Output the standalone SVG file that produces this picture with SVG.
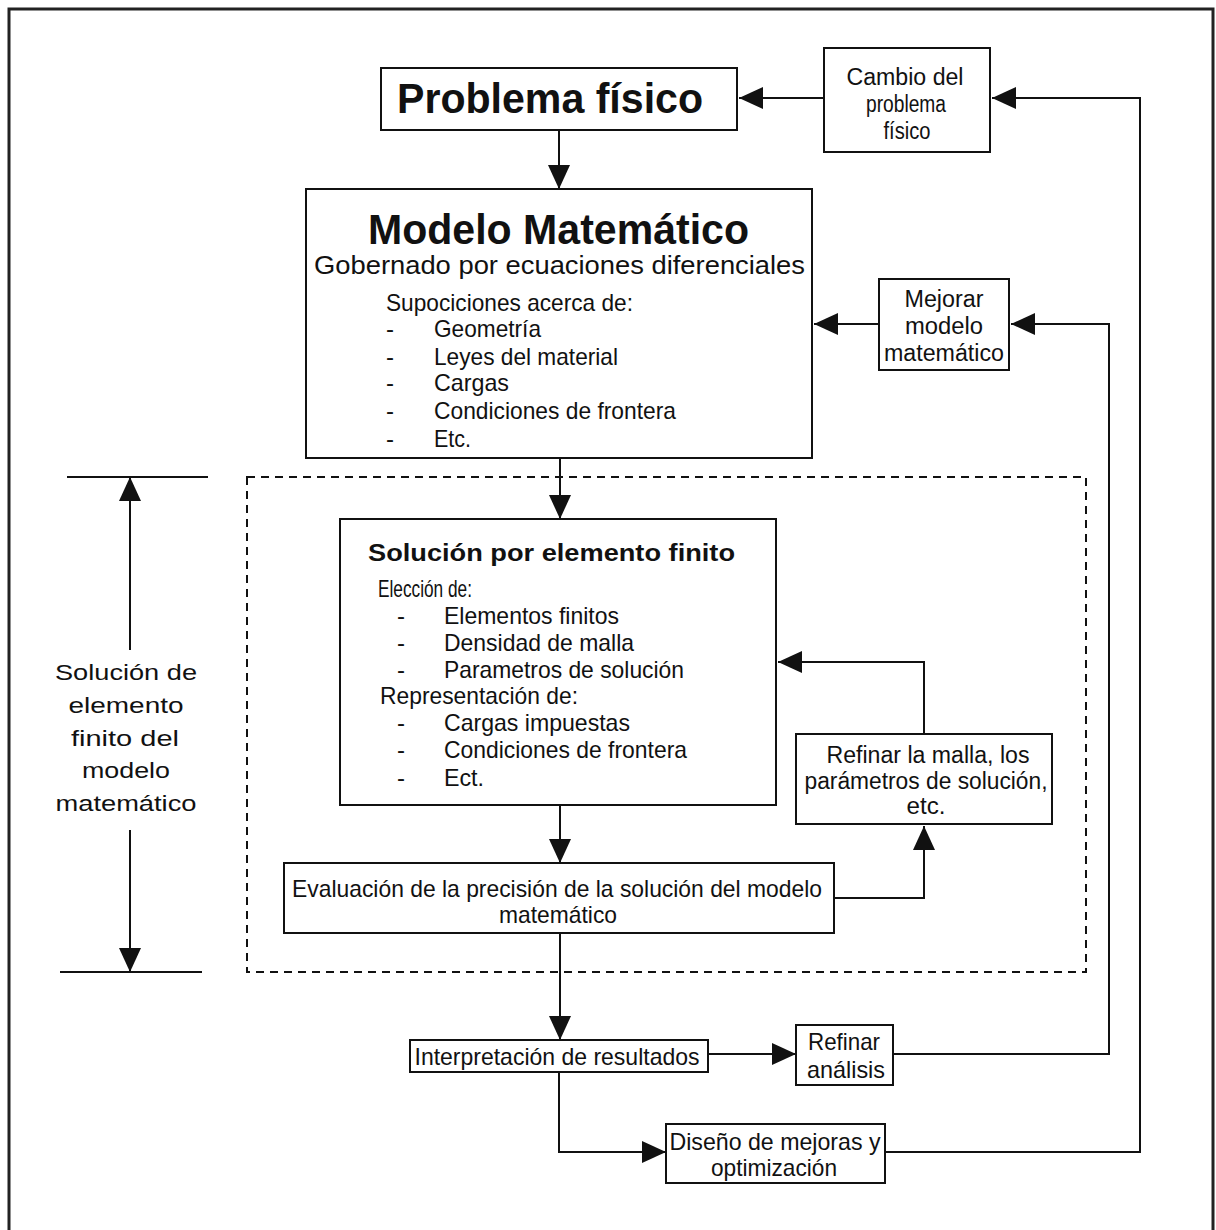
<svg xmlns="http://www.w3.org/2000/svg" width="1216" height="1230" viewBox="0 0 1216 1230">
<style>
.box{fill:#fff;stroke:#111;stroke-width:2}
.t{font-family:"Liberation Sans",Arial,sans-serif;font-size:24px;fill:#111}
.s22{font-size:22px}
.s23{font-size:23px}
.s26{font-size:26px}
.s42{font-size:42px}
.c{text-anchor:middle}
.b{font-weight:bold}
.con{fill:none;stroke:#111;stroke-width:2}
</style>
<defs>
<marker id="ah" markerUnits="userSpaceOnUse" markerWidth="24" markerHeight="22" refX="24" refY="11" orient="auto">
<path d="M0,0 L24,11 L0,22 z" fill="#111"/>
</marker>
</defs>
<rect width="1216" height="1230" fill="#fff"/>
<rect x="9" y="9" width="1204" height="1230" fill="none" stroke="#222" stroke-width="3"/>

<g id="connectors">
<path class="con" d="M824,98 L739,98" marker-end="url(#ah)"/>
<path class="con" d="M885,1152 L1140,1152 L1140,98 L992,98" marker-end="url(#ah)"/>
<path class="con" d="M559,130 L559,189" marker-end="url(#ah)"/>
<path class="con" d="M879,324 L814,324" marker-end="url(#ah)"/>
<path class="con" d="M893,1054 L1109,1054 L1109,324 L1011,324" marker-end="url(#ah)"/>
<path class="con" d="M560,458 L560,519" marker-end="url(#ah)"/>
<path class="con" d="M924,734 L924,662 L778,662" marker-end="url(#ah)"/>
<path class="con" d="M560,805 L560,863" marker-end="url(#ah)"/>
<path class="con" d="M834,898 L924,898 L924,826" marker-end="url(#ah)"/>
<path class="con" d="M560,933 L560,1040" marker-end="url(#ah)"/>
<path class="con" d="M708,1054 L796,1054" marker-end="url(#ah)"/>
<path class="con" d="M559,1072 L559,1152 L666,1152" marker-end="url(#ah)"/>
</g>

<g id="dimension">
<rect x="247" y="477" width="839" height="495" fill="none" stroke="#111" stroke-width="2" stroke-dasharray="8,6"/>
<line x1="67" y1="477" x2="208" y2="477" stroke="#111" stroke-width="2"/>
<line x1="60" y1="972" x2="202" y2="972" stroke="#111" stroke-width="2"/>
<path class="con" d="M130,650 L130,477" marker-end="url(#ah)"/>
<path class="con" d="M130,830 L130,972" marker-end="url(#ah)"/>
<text class="t s22 c" x="126" y="680" textLength="142" lengthAdjust="spacingAndGlyphs">Solución de</text>
<text class="t s22 c" x="126" y="713" textLength="115" lengthAdjust="spacingAndGlyphs">elemento</text>
<text class="t s22 c" x="125" y="746" textLength="108" lengthAdjust="spacingAndGlyphs">finito del</text>
<text class="t s22 c" x="126" y="778" textLength="88" lengthAdjust="spacingAndGlyphs">modelo</text>
<text class="t s22 c" x="126" y="811" textLength="141" lengthAdjust="spacingAndGlyphs">matemático</text>
</g>

<g id="problema">
<rect class="box" x="381" y="68" width="356" height="62"/>
<text class="t s42 b" x="397" y="113" textLength="306" lengthAdjust="spacingAndGlyphs">Problema físico</text>
</g>

<g id="cambio">
<rect class="box" x="824" y="48" width="166" height="104"/>
<text class="t s23 c" x="905" y="85" textLength="117" lengthAdjust="spacingAndGlyphs">Cambio del</text>
<text class="t s23 c" x="906" y="112" textLength="80" lengthAdjust="spacingAndGlyphs">problema</text>
<text class="t s23 c" x="907" y="139" textLength="47" lengthAdjust="spacingAndGlyphs">físico</text>
</g>

<g id="modelo">
<rect class="box" x="306" y="189" width="506" height="269"/>
<text class="t s42 b" x="368" y="244" textLength="381" lengthAdjust="spacingAndGlyphs">Modelo Matemático</text>
<text class="t s26" x="314" y="274" textLength="491" lengthAdjust="spacingAndGlyphs">Gobernado por ecuaciones diferenciales</text>
<text class="t" x="386" y="311" textLength="247" lengthAdjust="spacingAndGlyphs">Supociciones acerca de:</text>
<text class="t" x="386" y="337">-</text><text class="t" x="434" y="337" textLength="107" lengthAdjust="spacingAndGlyphs">Geometría</text>
<text class="t" x="386" y="365">-</text><text class="t" x="434" y="365" textLength="184" lengthAdjust="spacingAndGlyphs">Leyes del material</text>
<text class="t" x="386" y="391">-</text><text class="t" x="434" y="391" textLength="75" lengthAdjust="spacingAndGlyphs">Cargas</text>
<text class="t" x="386" y="419">-</text><text class="t" x="434" y="419" textLength="242" lengthAdjust="spacingAndGlyphs">Condiciones de frontera</text>
<text class="t" x="386" y="447">-</text><text class="t" x="434" y="447" textLength="37" lengthAdjust="spacingAndGlyphs">Etc.</text>
</g>

<g id="mejorar">
<rect class="box" x="879" y="279" width="130" height="91"/>
<text class="t s23 c" x="944" y="307" textLength="79" lengthAdjust="spacingAndGlyphs">Mejorar</text>
<text class="t s23 c" x="944" y="334" textLength="78" lengthAdjust="spacingAndGlyphs">modelo</text>
<text class="t s23 c" x="944" y="361" textLength="120" lengthAdjust="spacingAndGlyphs">matemático</text>
</g>

<g id="solucion">
<rect class="box" x="340" y="519" width="436" height="286"/>
<text class="t s23 b" x="368" y="561" textLength="367" lengthAdjust="spacingAndGlyphs">Solución por elemento finito</text>
<text class="t" x="378" y="597" textLength="94" lengthAdjust="spacingAndGlyphs">Elección de:</text>
<text class="t" x="397" y="624">-</text><text class="t" x="444" y="624" textLength="175" lengthAdjust="spacingAndGlyphs">Elementos finitos</text>
<text class="t" x="397" y="651">-</text><text class="t" x="444" y="651" textLength="190" lengthAdjust="spacingAndGlyphs">Densidad de malla</text>
<text class="t" x="397" y="678">-</text><text class="t" x="444" y="678" textLength="240" lengthAdjust="spacingAndGlyphs">Parametros de solución</text>
<text class="t" x="380" y="704" textLength="198" lengthAdjust="spacingAndGlyphs">Representación de:</text>
<text class="t" x="397" y="731">-</text><text class="t" x="444" y="731" textLength="186" lengthAdjust="spacingAndGlyphs">Cargas impuestas</text>
<text class="t" x="397" y="758">-</text><text class="t" x="444" y="758" textLength="243" lengthAdjust="spacingAndGlyphs">Condiciones de frontera</text>
<text class="t" x="397" y="786">-</text><text class="t" x="444" y="786" textLength="40" lengthAdjust="spacingAndGlyphs">Ect.</text>
</g>

<g id="refinar-malla">
<rect class="box" x="796" y="734" width="256" height="90"/>
<text class="t s23 c" x="928" y="763" textLength="203" lengthAdjust="spacingAndGlyphs">Refinar la malla, los</text>
<text class="t s23 c" x="926" y="789" textLength="243" lengthAdjust="spacingAndGlyphs">parámetros de solución,</text>
<text class="t s23 c" x="926" y="814" textLength="39" lengthAdjust="spacingAndGlyphs">etc.</text>
</g>

<g id="evaluacion">
<rect class="box" x="284" y="863" width="550" height="70"/>
<text class="t c" x="557" y="897" textLength="530" lengthAdjust="spacingAndGlyphs">Evaluación de la precisión de la solución del modelo</text>
<text class="t c" x="558" y="923" textLength="118" lengthAdjust="spacingAndGlyphs">matemático</text>
</g>

<g id="interpretacion">
<rect class="box" x="410" y="1040" width="298" height="32"/>
<text class="t c" x="557" y="1065" textLength="285" lengthAdjust="spacingAndGlyphs">Interpretación de resultados</text>
</g>

<g id="refinar-analisis">
<rect class="box" x="796" y="1025" width="97" height="60"/>
<text class="t c" x="844" y="1050" textLength="72" lengthAdjust="spacingAndGlyphs">Refinar</text>
<text class="t c" x="846" y="1078" textLength="78" lengthAdjust="spacingAndGlyphs">análisis</text>
</g>

<g id="diseno">
<rect class="box" x="666" y="1124" width="219" height="59"/>
<text class="t c" x="775" y="1150" textLength="211" lengthAdjust="spacingAndGlyphs">Diseño de mejoras y</text>
<text class="t c" x="774" y="1176" textLength="126" lengthAdjust="spacingAndGlyphs">optimización</text>
</g>
</svg>
